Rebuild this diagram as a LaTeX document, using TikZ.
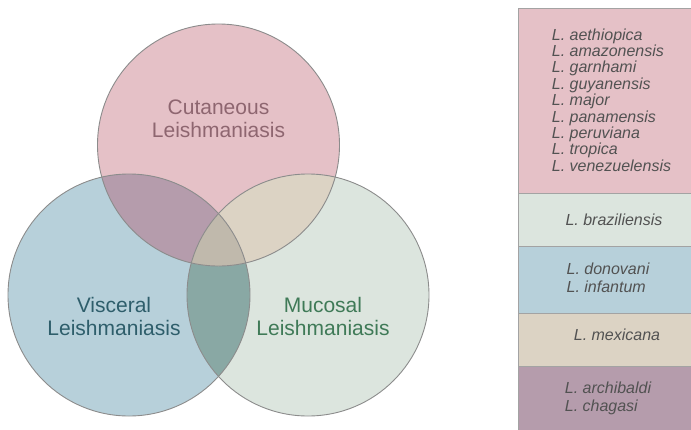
\documentclass[tikz,border=0pt]{standalone}
\usepackage{fontspec}
\setmainfont{Liberation Sans}
\definecolor{pinkc}{HTML}{E5C1C7}
\definecolor{bluec}{HTML}{B7D0DA}
\definecolor{greenc}{HTML}{DCE5DE}
\definecolor{purplec}{HTML}{B59CAC}
\definecolor{beigec}{HTML}{DCD3C4}
\definecolor{tealc}{HTML}{89A8A4}
\definecolor{centerc}{HTML}{C0B9AC}
\definecolor{linec}{HTML}{8C8C8C}
\definecolor{cuttext}{HTML}{8E6670}
\definecolor{vistext}{HTML}{2E5E6B}
\definecolor{muctext}{HTML}{3F7A57}
\definecolor{tabtext}{HTML}{525252}
\begin{document}
\begin{tikzpicture}[x=1pt,y=-1pt,
  outline/.style={draw=linec,line width=0.9pt},
  lbl/.style={align=center,inner sep=0pt,font=\fontsize{21}{22.5}\selectfont},
  rowbox/.style={draw=linec!80,line width=0.9pt},
  spec/.style={align=left,inner sep=0pt,text=tabtext,font=\fontsize{16}{16.4}\selectfont\itshape}]
\useasboundingbox (0,0) rectangle (691,429);
\coordinate (C) at (218.5,145);
\coordinate (V) at (129,295);
\coordinate (M) at (308,295);
% base circles
\fill[pinkc] (C) circle (121pt);
\fill[bluec] (V) circle (121pt);
\fill[greenc] (M) circle (121pt);
% overlaps
\begin{scope}
  \clip (V) circle (121pt);
  \fill[tealc] (M) circle (121pt);
\end{scope}
\begin{scope}
  \clip (C) circle (121pt);
  \fill[purplec] (V) circle (121pt);
  \fill[beigec] (M) circle (121pt);
  \clip (V) circle (121pt);
  \fill[centerc] (M) circle (121pt);
\end{scope}
% outlines
\draw[outline] (C) circle (121pt);
\draw[outline] (V) circle (121pt);
\draw[outline] (M) circle (121pt);
% labels
\node[lbl,text=cuttext] (cut) at (218.5,119) {Cutaneous\\Leishmaniasis};
\node[lbl,text=vistext] (vis) at (114,316.5) {Visceral\\Leishmaniasis};
\node[lbl,text=muctext] (muc) at (323,316.5) {Mucosal\\Leishmaniasis};
% table
\path[rowbox,fill=pinkc] (518,8) rectangle (730,193);
\path[rowbox,fill=greenc] (518,193) rectangle (730,246);
\path[rowbox,fill=bluec] (518,246) rectangle (730,313);
\path[rowbox,fill=beigec] (518,313) rectangle (730,366);
\path[rowbox,fill=purplec] (518,366) rectangle (730,450);
\node[spec] (t1) at (611.5,100) {L. aethiopica\\L. amazonensis\\L. garnhami\\L. guyanensis\\L. major\\L. panamensis\\L. peruviana\\L. tropica\\L. venezuelensis};
\node[spec] (t2) at (614,220) {L. braziliensis};
\node[spec,font=\fontsize{16}{18}\selectfont\itshape] (t3) at (608,278) {L. donovani\\L. infantum};
\node[spec] (t4) at (617,335) {L. mexicana};
\node[spec,font=\fontsize{16}{18}\selectfont\itshape] (t5) at (608,398) {L. archibaldi\\L. chagasi};
\end{tikzpicture}
\end{document}
